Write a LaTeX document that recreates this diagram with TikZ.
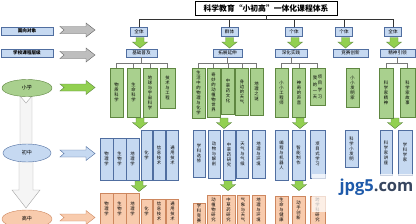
\documentclass[tikz,border=0pt]{standalone}
\usepackage{fontspec}
\setmainfont{Noto Sans CJK SC}
\newfontfamily\markfont{Open Sans}
\XeTeXlinebreaklocale "zh"
\XeTeXlinebreakskip=0pt plus 1pt
\usetikzlibrary{shapes.geometric, positioning}

\definecolor{lightblue}{RGB}{198,217,241}
\definecolor{boxline}{RGB}{80,110,160}
\definecolor{greenfill}{RGB}{169,208,142}
\definecolor{greenline}{RGB}{95,135,65}
\definecolor{arrowgreen}{RGB}{146,208,80}
\definecolor{orangefill}{RGB}{248,203,173}
\definecolor{orangeline}{RGB}{205,135,95}
\definecolor{grayfill}{RGB}{190,190,190}
\definecolor{grayline}{RGB}{100,100,100}
\definecolor{linegray}{RGB}{120,120,120}
\definecolor{markblue}{RGB}{30,90,170}
\definecolor{markgray}{RGB}{55,70,95}

\begin{document}
\begin{tikzpicture}[x=1pt, y=-1pt,
    lbl/.style={rectangle, draw=boxline, fill=lightblue, inner sep=0pt, minimum height=8.5pt, font=\fontsize{4.6}{5}\selectfont},
    topbox/.style={lbl, minimum width=17pt},
    gbox/.style={rectangle, draw=greenline, fill=greenfill, inner sep=0pt, minimum width=13pt, text width=6pt, align=center, anchor=north, font=\fontsize{4.3}{5}\selectfont},
    bbox/.style={gbox, draw=boxline, fill=lightblue},
    obox/.style={gbox, draw=orangeline, fill=orangefill},
    stage/.style={ellipse, minimum width=50pt, minimum height=17pt, inner sep=0pt, font=\fontsize{5}{6}\selectfont},
    barrow/.style={draw=greenline, fill=arrowgreen, line join=miter},
    link/.style={draw=linegray, line width=0.5pt}]

    \clip (0,0) rectangle (416,223);
    \useasboundingbox (0,0) rectangle (416,223);

    % left side
    \node [lbl, minimum width=52pt, font=\bfseries\fontsize{4.6}{5}\selectfont] (obj) at (27,31) {面向对象};
    \node [lbl, minimum width=52pt, font=\bfseries\fontsize{4.6}{5}\selectfont] (lvl) at (27,53) {学校课程层级};

    \foreach \yc/\fc/\dc in {30/grayfill/grayline, 55/grayfill/grayline, 87.5/arrowgreen/greenline, 153.5/lightblue/boxline, 217.5/orangefill/orangeline}
        \draw [draw=\dc, fill=\fc] (60,\yc-3.5) -- (86,\yc-3.5) -- (86,\yc-7) -- (95,\yc) -- (86,\yc+7) -- (86,\yc+3.5) -- (60,\yc+3.5) -- (64,\yc) -- cycle;

    \draw [draw=gray!70, fill=gray!8] (20,96) -- (26,103) -- (32,96) -- (32,150) -- (20,150) -- cycle;
    \draw [draw=gray!70, fill=gray!8] (19,160) -- (33,160) -- (33,190) -- (40,190) -- (26,208) -- (12,190) -- (19,190) -- cycle;

    \node [stage, draw=greenline, fill=greenfill] (prim) at (27,88) {小学};
    \node [stage, draw=boxline, fill=lightblue, minimum width=48pt, minimum height=18pt] (mid) at (27,153) {初中};
    \node [stage, draw=orangeline, fill=orangefill, minimum height=18pt] (high) at (27,219) {高中};

    % title and target groups
    \node [draw, thick, minimum width=142pt, minimum height=14pt, inner sep=0pt, font=\bfseries\fontsize{7.8}{9}\selectfont] (title) at (266,8) {科学教育“小初高”一体化课程体系};

    \node [topbox] (t1) at (139,31.5) {全体};
    \node [topbox] (t2) at (229.5,31.5) {群体};
    \node [topbox] (t3) at (294,31.5) {个体};
    \node [topbox] (t4) at (344,31.5) {个体};
    \node [topbox] (t5) at (393,31.5) {全体};

    \draw [black!80] (t1.north) -- ++(0,-8) -| (t5.north);
    \foreach \n in {t2,t3,t4}
        \draw [black!80] (\n.north) -- ++(0,-8);
    \draw [black!80] (title.south) -- ++(0,4);

    \node [lbl, minimum width=31pt] (s1) at (141.5,53) {基础普及};
    \node [lbl, minimum width=29pt] (s2) at (227.5,53) {拓展延伸};
    \node [lbl, minimum width=32pt] (s3) at (291,53) {深化实践};
    \node [lbl, minimum width=35pt] (s4) at (350.5,53) {竞赛创新};
    \node [lbl, minimum width=35pt] (s5) at (397.5,53) {精神引领};

    \foreach \x/\y in {140/37.5, 229.5/37.5, 295/37.5, 345.5/37.5, 394/37.5, 140/118, 224/118, 300/118, 395/118, 139/181, 228/180, 299/180}
        \draw [barrow] (\x-4,\y) -- (\x+4,\y) -- (\x+4,\y+4.5) -- (\x+7.5,\y+4.5) -- (\x,\y+10.5) -- (\x-7.5,\y+4.5) -- (\x-4,\y+4.5) -- cycle;

    % primary school
    \node [gbox, minimum height=49pt] (g11) at (116.5,68) {物质科学};
    \node [gbox, minimum height=49pt] (g12) at (133.5,68) {生命科学};
    \node [gbox, minimum height=49pt, minimum width=14pt] (g13) at (150,68) {地球与宇宙科学};
    \node [gbox, minimum height=40pt, minimum width=15pt] (g14) at (167.5,68) {技术与工程};
    \node [gbox, minimum height=50pt] (g21) at (198.5,68) {生活中的物理与化学};
    \node [gbox, minimum height=49pt] (g22) at (213.5,68) {奇妙的动植物世界};
    \node [gbox, minimum height=46pt] (g23) at (228,68) {中草药文化};
    \node [gbox, minimum height=47pt] (g24) at (242,68) {身边的天气};
    \node [gbox, minimum height=47pt] (g25) at (256.5,68) {地理之谜};
    \node [gbox, minimum height=49pt] (g31) at (281.5,68) {小小工程师};
    \node [gbox, minimum height=49pt] (g32) at (299,68) {神奇的声音};
    \node [gbox, minimum height=37pt, minimum width=15pt, text width={}] (g33) at (317.5,68) {\shortstack{我\\的\\一\\天}\,\shortstack{项\\目\\学\\习}};
    \node [gbox, minimum height=39pt] (g41) at (352.5,68) {小小发明家};
    \node [gbox, minimum height=50pt, minimum width=14pt] (g51) at (386,68) {科学家精神};
    \node [gbox, minimum height=49pt, minimum width=15pt] (g52) at (407.5,68) {科学家故事};

    \draw [link] (g11.north) -- ++(0,-5) -| (g14.north);
    \foreach \n in {g12,g13}
        \draw [link] (\n.north) -- ++(0,-5);
    \draw [link] (s1.south) -- ++(0,6);
    \draw [link] (g21.north) -- ++(0,-5) -| (g25.north);
    \foreach \n in {g22,g23,g24}
        \draw [link] (\n.north) -- ++(0,-5);
    \draw [link] (s2.south) -- ++(0,6);
    \draw [link] (g31.north) -- ++(0,-5) -| (g33.north);
    \draw [link] (g32.north) -- ++(0,-5);
    \draw [link] (s3.south) -- ++(0,6);
    \draw [link] (g51.north) -- ++(0,-5) -| (g52.north);
    \draw [link] (s5.south) -- ++(0,6);

    % middle school
    \node [bbox, minimum height=42pt] (b11) at (106.5,138) {物理学};
    \node [bbox, minimum height=42pt] (b12) at (119.5,138) {生物学};
    \node [bbox, minimum height=42pt] (b13) at (132.5,138) {地理学};
    \node [bbox, minimum height=50pt, minimum width=11pt] (b14) at (146.5,130) {化学};
    \node [bbox, minimum height=50pt, minimum width=12pt] (b15) at (159,130) {信息技术};
    \node [bbox, minimum height=50pt, minimum width=12pt] (b16) at (172.5,130) {通用技术};
    \node [bbox, minimum height=47pt, minimum width=12pt] (b21) at (199,130) {学科选修};
    \node [bbox, minimum height=48pt, minimum width=12pt] (b22) at (214,130) {动物与解剖};
    \node [bbox, minimum height=50pt, minimum width=12pt] (b23) at (229,130) {中草药研究};
    \node [bbox, minimum height=48pt, minimum width=12pt] (b24) at (242.5,130) {天气与气候};
    \node [bbox, minimum height=48pt] (b25) at (258.5,130) {地理与环境};
    \node [bbox, minimum height=50pt] (b31) at (281.5,130) {编程与机器人};
    \node [bbox, minimum height=50pt] (b32) at (298.5,130) {智能制作};
    \node [bbox, minimum height=48pt, minimum width=15pt] (b33) at (317.5,130) {项目式学习};
    \node [bbox, minimum height=37pt] (b41) at (351.5,130) {科学小发明};
    \node [bbox, minimum height=45pt, minimum width=12pt] (b51) at (386,130) {科学家讲座};
    \node [bbox, minimum height=45pt, minimum width=14pt] (b52) at (405,130) {学科学家};

    % high school, boxes run out at the lower edge
    \node [obox, minimum height=31pt] (o11) at (106.5,193) {物理学};
    \node [obox, minimum height=31pt] (o12) at (119.5,193) {生物学};
    \node [obox, minimum height=31pt] (o13) at (132.5,193) {地理学};
    \node [obox, minimum height=25pt, minimum width=11pt] (o14) at (146.5,199) {化学};
    \node [obox, minimum height=25pt, minimum width=12pt] (o15) at (159,199) {信息技术};
    \node [obox, minimum height=25pt, minimum width=12pt] (o16) at (172.5,199) {通用技术};
    \node [obox, minimum height=21pt, minimum width=12pt] (o21) at (199,203) {学科竞赛};
    \node [obox, minimum height=29pt] (o22) at (213.5,195) {动植物研究};
    \node [obox, minimum height=29pt] (o23) at (228.5,195) {中草药研究};
    \node [obox, minimum height=29pt, minimum width=12pt] (o24) at (243,195) {气象与天气};
    \node [obox, minimum height=29pt] (o25) at (258.5,195) {地理与环境};
    \node [obox, minimum height=28pt] (o31) at (281.5,196) {生命与健康};
    \node [obox, minimum height=28pt] (o32) at (298.5,196) {动手创新};
    \node [obox, minimum height=28pt, minimum width=15pt] (o33) at (317.5,196) {跨学科研究};

    % watermark
    \fill [white, opacity=0.7] (312,174) rectangle (416,212);
    \node [inner sep=0pt, font=\markfont\bfseries\fontsize{16.5}{18}\selectfont] (mark) at (376.5,187) {\textcolor{markblue}{jpg5}\textcolor{markgray}{.com}};
\end{tikzpicture}
\end{document}
